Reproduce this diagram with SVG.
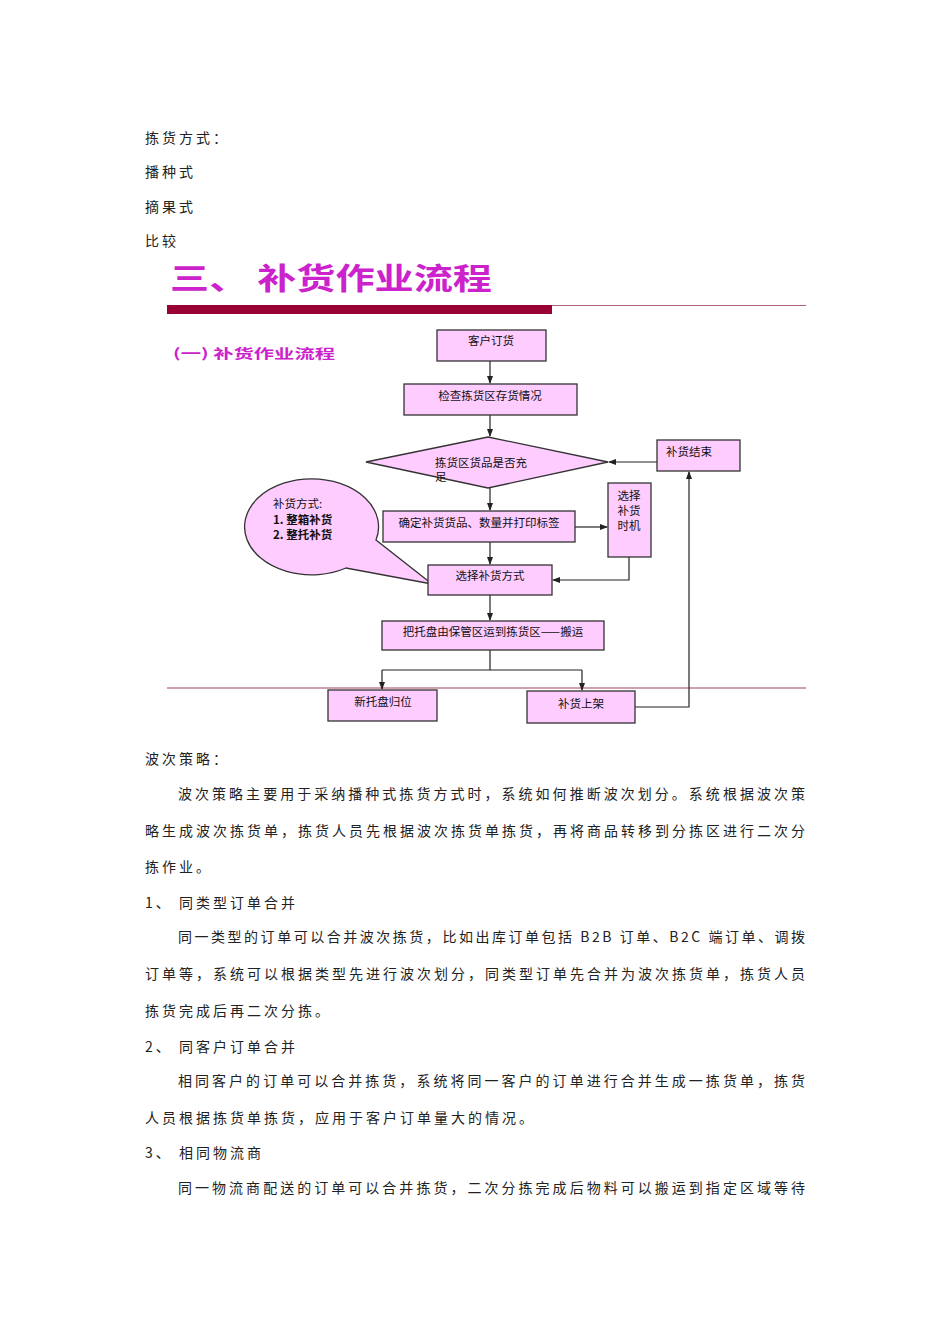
<svg xmlns="http://www.w3.org/2000/svg" width="950" height="1344" viewBox="0 0 950 1344">
<style>
.t{font-family:"Noto Sans CJK SC","Liberation Serif",serif;font-size:14px;fill:#222}
.n{fill:#ffccff;stroke:#333;stroke-width:1.3}
.l{font-family:"Noto Sans CJK SC",sans-serif;font-size:11.5px;fill:#111}
.c{fill:none;stroke:#222;stroke-width:1.2}
</style>
<defs><marker id="a" markerWidth="8" markerHeight="8" refX="7" refY="4" orient="auto" markerUnits="userSpaceOnUse"><path d="M0,1 L8,4 L0,7 Z" fill="#222"/></marker></defs>
<rect width="950" height="1344" fill="#fff"/>
<text class="t" x="145" y="143" letter-spacing="3">拣货方式：</text>
<text class="t" x="145" y="177" letter-spacing="3">播种式</text>
<text class="t" x="145" y="212" letter-spacing="3">摘果式</text>
<text class="t" x="145" y="246" letter-spacing="3">比较</text>
<text x="170" y="289" font-family="Noto Sans CJK SC,sans-serif" font-size="30" font-weight="bold" fill="#cc22cc" textLength="322" lengthAdjust="spacingAndGlyphs">三、 补货作业流程</text>
<rect x="167" y="305" width="385" height="9" fill="#990033"/>
<line x1="552" y1="305.5" x2="806" y2="305.5" stroke="#b06080" stroke-width="1.2"/>
<text x="173" y="358" font-family="Noto Sans CJK SC,sans-serif" font-size="13" font-weight="bold" fill="#cc22cc" textLength="162" lengthAdjust="spacingAndGlyphs">(一) 补货作业流程</text>
<line x1="167" y1="688" x2="806" y2="688" stroke="#a04060" stroke-width="1"/>
<g id="connectors">
<path class="c" d="M490,361 V383" marker-end="url(#a)"/>
<path class="c" d="M490,415 V436" marker-end="url(#a)"/>
<path class="c" d="M490,488 V510" marker-end="url(#a)"/>
<path class="c" d="M575,527 H607" marker-end="url(#a)"/>
<path class="c" d="M490,542 V564" marker-end="url(#a)"/>
<path class="c" d="M629,557 V580 H553" marker-end="url(#a)"/>
<path class="c" d="M490,595 V620" marker-end="url(#a)"/>
<path class="c" d="M490,650 V670 M382,670 H582"/>
<path class="c" d="M382,670 V689" marker-end="url(#a)"/>
<path class="c" d="M582,670 V690" marker-end="url(#a)"/>
<path class="c" d="M635,707 H689 V472" marker-end="url(#a)"/>
<path class="c" d="M657,462 H609" marker-end="url(#a)"/>
</g>
<g id="n1"><rect class="n" x="437" y="330" width="109" height="31"/><text class="l" x="491" y="345" text-anchor="middle">客户订货</text></g>
<g id="n2"><rect class="n" x="404" y="384" width="173" height="31"/><text class="l" x="490" y="400" text-anchor="middle">检查拣货区存货情况</text></g>
<g id="n3"><polygon class="n" points="366,462 488,437 608,462 488,488"/><text class="l" x="435" y="467">拣货区货品是否充</text><text class="l" x="435" y="481">足</text></g>
<g id="n4"><rect class="n" x="657" y="440" width="83" height="31"/><text class="l" x="666" y="456">补货结束</text></g>
<g id="n5"><path class="n" d="M376,540 A67,48 0 1 0 346,568 L432,584 Z"/><text class="l" x="273" y="508">补货方式:</text><text class="l" x="273" y="524" font-weight="bold">1. 整箱补货</text><text class="l" x="273" y="539" font-weight="bold">2. 整托补货</text></g>
<g id="n6"><rect class="n" x="383" y="511" width="192" height="31"/><text class="l" x="479" y="527" text-anchor="middle">确定补货货品、数量并打印标签</text></g>
<g id="n7"><rect class="n" x="608" y="483" width="43" height="74"/><text class="l" x="629" y="500" text-anchor="middle">选择</text><text class="l" x="629" y="515" text-anchor="middle">补货</text><text class="l" x="629" y="530" text-anchor="middle">时机</text></g>
<g id="n8"><rect class="n" x="428" y="565" width="124" height="30"/><text class="l" x="490" y="580" text-anchor="middle">选择补货方式</text></g>
<g id="n9"><rect class="n" x="382" y="621" width="222" height="29"/><text class="l" x="493" y="636" text-anchor="middle">把托盘由保管区运到拣货区——搬运</text></g>
<g id="n10"><rect class="n" x="328" y="690" width="109" height="31"/><text class="l" x="383" y="706" text-anchor="middle">新托盘归位</text></g>
<g id="n11"><rect class="n" x="527" y="691" width="108" height="32"/><text class="l" x="581" y="708" text-anchor="middle">补货上架</text></g>
<text class="t" x="145" y="764" letter-spacing="3">波次策略：</text>
<text class="t" x="178" y="799" textLength="627" lengthAdjust="spacing">波次策略主要用于采纳播种式拣货方式时，系统如何推断波次划分。系统根据波次策</text>
<text class="t" x="145" y="836" textLength="660" lengthAdjust="spacing">略生成波次拣货单，拣货人员先根据波次拣货单拣货，再将商品转移到分拣区进行二次分</text>
<text class="t" x="145" y="872" letter-spacing="3">拣作业。</text>
<text class="t" x="145" y="908" letter-spacing="3">1、 同类型订单合并</text>
<text class="t" x="178" y="942" textLength="627" lengthAdjust="spacing">同一类型的订单可以合并波次拣货，比如出库订单包括 B2B 订单、B2C 端订单、调拨</text>
<text class="t" x="145" y="979" textLength="660" lengthAdjust="spacing">订单等，系统可以根据类型先进行波次划分，同类型订单先合并为波次拣货单，拣货人员</text>
<text class="t" x="145" y="1016" letter-spacing="3">拣货完成后再二次分拣。</text>
<text class="t" x="145" y="1052" letter-spacing="3">2、 同客户订单合并</text>
<text class="t" x="178" y="1086" textLength="627" lengthAdjust="spacing">相同客户的订单可以合并拣货，系统将同一客户的订单进行合并生成一拣货单，拣货</text>
<text class="t" x="145" y="1123" letter-spacing="3">人员根据拣货单拣货，应用于客户订单量大的情况。</text>
<text class="t" x="145" y="1158" letter-spacing="3">3、 相同物流商</text>
<text class="t" x="178" y="1193" textLength="627" lengthAdjust="spacing">同一物流商配送的订单可以合并拣货，二次分拣完成后物料可以搬运到指定区域等待</text>
</svg>
